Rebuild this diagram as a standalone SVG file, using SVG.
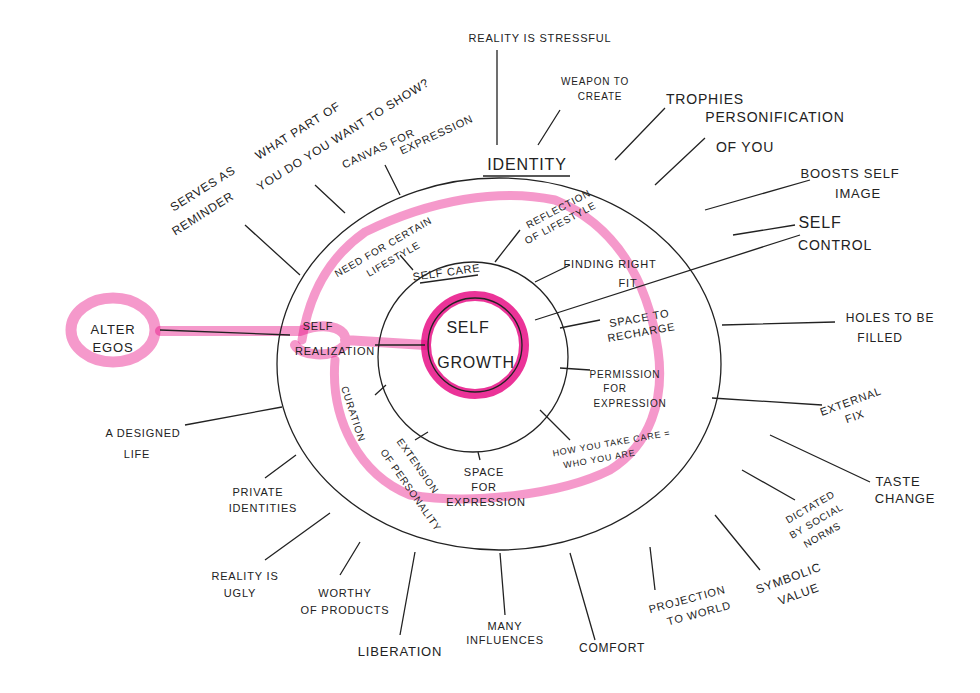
<svg xmlns="http://www.w3.org/2000/svg" width="980" height="693" viewBox="0 0 980 693">
<style>
text{font-family:"Liberation Sans",Arial,sans-serif;font-size:11px;fill:#222;letter-spacing:0.8px;text-anchor:middle}
.big{font-size:16px}
.ln{stroke:#222;stroke-width:1.3;fill:none}
.pk{stroke:#e6007e;fill:none;stroke-linecap:round;opacity:0.4}
</style>
<rect width="980" height="693" fill="#fff"/>
<g id="pink">
<path class="pk" stroke-width="10" d="M160,331 L300,331 C330,320 350,330 345,345 C330,360 300,355 295,345 M345,340 L425,345"/>
<path class="pk" stroke-width="9" d="M335,360 C330,420 360,475 410,495 C470,505 560,495 610,470 C650,445 665,400 658,350 C648,280 615,225 555,200 C500,188 430,200 365,232 C325,260 308,300 302,340"/>
<ellipse class="pk" stroke-width="11" cx="113" cy="330" rx="42" ry="32"/>
<circle cx="475" cy="345" r="49" fill="none" stroke="#e6007e" stroke-width="10" opacity="0.8"/>
</g>
<g id="circles">
<ellipse class="ln" cx="499" cy="364" rx="222" ry="186"/>
<circle class="ln" cx="473" cy="357" r="95"/>
<circle class="ln" cx="475" cy="345" r="47" stroke-width="2"/>
</g>
<g id="connectors" class="ln">
<path d="M497,50V145M560,110L538,145M665,108L615,160M705,138L655,185M810,180L705,210M795,225L733,235M800,235L535,320M835,322L722,325M822,405L712,398M870,482L770,435M795,500L742,470M760,570L715,515M655,590L650,547M595,640L570,553M505,615L500,553M400,635L415,552M340,575L360,542M265,560L330,513M265,478L296,455M185,425L282,407M160,330L290,335M245,225L300,275M315,185L345,213M385,165L400,195"/>
<path d="M520,230L495,262M400,255L413,270M570,265L535,282M600,320L560,328M590,370L560,368M570,440L540,410M480,460L478,452M415,440L428,432M375,395L386,385M375,345L425,345M483,176H570"/>
</g>
<g id="labels">
<text x="540" y="42">REALITY IS STRESSFUL</text>
<text x="595" y="85" style="font-size:10px">WEAPON TO</text><text x="600" y="100" style="font-size:10px">CREATE</text>
<text x="705" y="104" style="font-size:14px">TROPHIES</text>
<text x="775" y="122" style="font-size:14px">PERSONIFICATION</text><text x="745" y="152" style="font-size:14px">OF YOU</text>
<text x="850" y="178" style="font-size:13px">BOOSTS SELF</text><text x="858" y="198" style="font-size:13px">IMAGE</text>
<text x="820" y="228" class="big">SELF</text><text x="835" y="250" style="font-size:14px">CONTROL</text>
<text x="890" y="322" style="font-size:12px">HOLES TO BE</text><text x="880" y="342" style="font-size:12px">FILLED</text>
<text x="852" y="405" transform="rotate(-20 852 405)">EXTERNAL</text><text x="856" y="420" transform="rotate(-20 856 420)">FIX</text>
<text x="898" y="486" style="font-size:13px">TASTE</text><text x="905" y="503" style="font-size:13px">CHANGE</text>
<text x="812" y="510" transform="rotate(-30 812 510)" style="font-size:10px">DICTATED</text>
<text x="818" y="524" transform="rotate(-30 818 524)" style="font-size:10px">BY SOCIAL</text>
<text x="824" y="538" transform="rotate(-30 824 538)" style="font-size:10px">NORMS</text>
<text x="790" y="582" transform="rotate(-20 790 582)" style="font-size:12px">SYMBOLIC</text><text x="800" y="598" transform="rotate(-20 800 598)" style="font-size:12px">VALUE</text>
<text x="688" y="603" transform="rotate(-15 688 603)">PROJECTION</text><text x="700" y="617" transform="rotate(-15 700 617)">TO WORLD</text>
<text x="612" y="652" style="font-size:12px">COMFORT</text>
<text x="505" y="630">MANY</text><text x="505" y="644">INFLUENCES</text>
<text x="400" y="656" style="font-size:13px">LIBERATION</text>
<text x="345" y="597">WORTHY</text><text x="345" y="614">OF PRODUCTS</text>
<text x="245" y="580">REALITY IS</text><text x="240" y="597">UGLY</text>
<text x="258" y="496">PRIVATE</text><text x="263" y="512">IDENTITIES</text>
<text x="143" y="437">A DESIGNED</text><text x="137" y="458">LIFE</text>
<text x="113" y="334" style="font-size:13px">ALTER</text><text x="113" y="352" style="font-size:13px">EGOS</text>
<text x="205" y="192" transform="rotate(-32 205 192)" style="font-size:12px">SERVES AS</text>
<text x="205" y="217" transform="rotate(-32 205 217)" style="font-size:12px">REMINDER</text>
<text x="300" y="134" transform="rotate(-32 300 134)" style="font-size:12px">WHAT PART OF</text>
<text x="345" y="138" transform="rotate(-32 345 138)" style="font-size:12px">YOU DO YOU WANT TO SHOW?</text>
<text x="380" y="152" transform="rotate(-25 380 152)">CANVAS FOR</text>
<text x="438" y="138" transform="rotate(-25 438 138)">EXPRESSION</text>
<text x="527" y="170" class="big">IDENTITY</text>
<text x="447" y="276" transform="rotate(-8 447 276)">SELF CARE</text>
<path class="ln" d="M420,283L478,275"/>
<text x="560" y="212" transform="rotate(-28 560 212)" style="font-size:10px">REFLECTION</text>
<text x="562" y="226" transform="rotate(-28 562 226)" style="font-size:10px">OF LIFESTYLE</text>
<text x="385" y="250" transform="rotate(-30 385 250)" style="font-size:10px">NEED FOR CERTAIN</text>
<text x="395" y="262" transform="rotate(-30 395 262)" style="font-size:10px">LIFESTYLE</text>
<text x="610" y="268">FINDING RIGHT</text><text x="628" y="287">FIT</text>
<text x="640" y="322" transform="rotate(-10 640 322)">SPACE TO</text><text x="642" y="336" transform="rotate(-10 642 336)">RECHARGE</text>
<text x="625" y="378" style="font-size:10px">PERMISSION</text><text x="615" y="392" style="font-size:10px">FOR</text><text x="630" y="407" style="font-size:10px">EXPRESSION</text>
<text x="612" y="446" transform="rotate(-10 612 446)" style="font-size:9px">HOW YOU TAKE CARE =</text>
<text x="600" y="462" transform="rotate(-10 600 462)" style="font-size:9px">WHO YOU ARE</text>
<text x="484" y="476">SPACE</text><text x="484" y="491">FOR</text><text x="486" y="506">EXPRESSION</text>
<text x="415" y="468" transform="rotate(55 415 468)" style="font-size:10px">EXTENSION</text>
<text x="408" y="492" transform="rotate(55 408 492)" style="font-size:10px">OF PERSONALITY</text>
<text x="350" y="415" transform="rotate(72 350 415)" style="font-size:10px">CURATION</text>
<text x="318" y="330">SELF</text><text x="335" y="355">REALIZATION</text>
<text x="468" y="333" class="big">SELF</text><text x="476" y="368" class="big">GROWTH</text>
</g>
</svg>
